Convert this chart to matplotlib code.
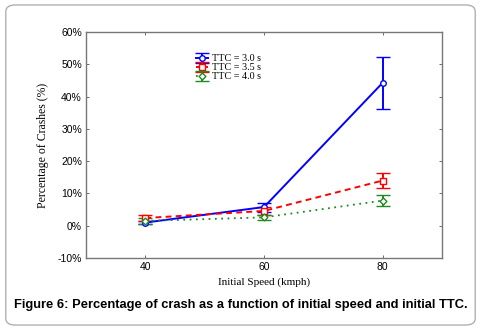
import matplotlib.pyplot as plt
from matplotlib.patches import FancyBboxPatch
from matplotlib.ticker import FuncFormatter

speeds = [40, 60, 80]
labels = ['TTC = 3.0 s', 'TTC = 3.5 s', 'TTC = 4.0 s']
ttc30 = [1.0, 5.8, 44.3]
ttc30_err = [0.5, 1.4, 8.0]
ttc35 = [2.4, 4.6, 14.0]
ttc35_err = [1.0, 1.3, 2.2]
ttc40 = [1.5, 2.6, 7.8]
ttc40_err = [1.0, 0.8, 1.7]

fig = plt.figure(figsize=(4.81, 3.30), dpi=100)
# rounded frame round the whole figure
frame = FancyBboxPatch((0.012, 0.015), 0.976, 0.97, boxstyle='round,pad=0,rounding_size=0.02',
                       transform=fig.transFigure, facecolor='none', edgecolor='#b0b0b0',
                       lw=1.0, zorder=-1)
fig.patches.append(frame)

ax = fig.add_axes([0.179, 0.218, 0.740, 0.685])

series = [(ttc30, ttc30_err, 'blue', '-', 'o', 1.4),
          (ttc35, ttc35_err, 'red', (0, (3, 2.2)), 's', 1.4),
          (ttc40, ttc40_err, '#1f8a1f', (0, (1, 2.5)), 'D', 1.3)]
for (vals, err, col, ls, mk, lw), lab in zip(series, labels):
    ax.errorbar(speeds, vals, yerr=err, color=col, ls=ls, lw=lw, marker=mk,
                ms=4 if mk != 'D' else 3.5, mfc='white', mec=col, mew=1.0,
                capsize=5, capthick=1.4, elinewidth=1.4, label=lab)

ax.set_xlim(30, 90)
ax.set_ylim(-10, 60)
ax.set_xticks(speeds)
ax.set_yticks(range(-10, 61, 10))
ax.yaxis.set_major_formatter(FuncFormatter(lambda v, p: '%d%%' % v))
ax.tick_params(direction='in', length=2, width=0.6, color='#555555', labelsize=7.5,
               top=True, right=True, pad=3)
for lbl in ax.get_xticklabels() + ax.get_yticklabels():
    lbl.set_family('Liberation Sans')
for s in ax.spines.values():
    s.set_color('#777777')
    s.set_linewidth(1.0)

ax.set_xlabel('Initial Speed (kmph)', family='Liberation Serif', fontsize=8, labelpad=4)
ax.set_ylabel('Percentage of Crashes (%)', family='Liberation Serif', fontsize=8.5, labelpad=6)

leg = ax.legend(loc='upper left', bbox_to_anchor=(0.295, 0.925), frameon=False,
                prop={'family': 'Liberation Serif', 'size': 7.3}, labelspacing=0,
                handlelength=1.2, handletextpad=0.4, borderpad=0)

fig.text(0.5, 0.076, 'Figure 6: Percentage of crash as a function of initial speed and initial TTC.',
         ha='center', va='center', family='Liberation Sans', weight='bold', fontsize=9.3)

fig.savefig('out.png', dpi=100)
